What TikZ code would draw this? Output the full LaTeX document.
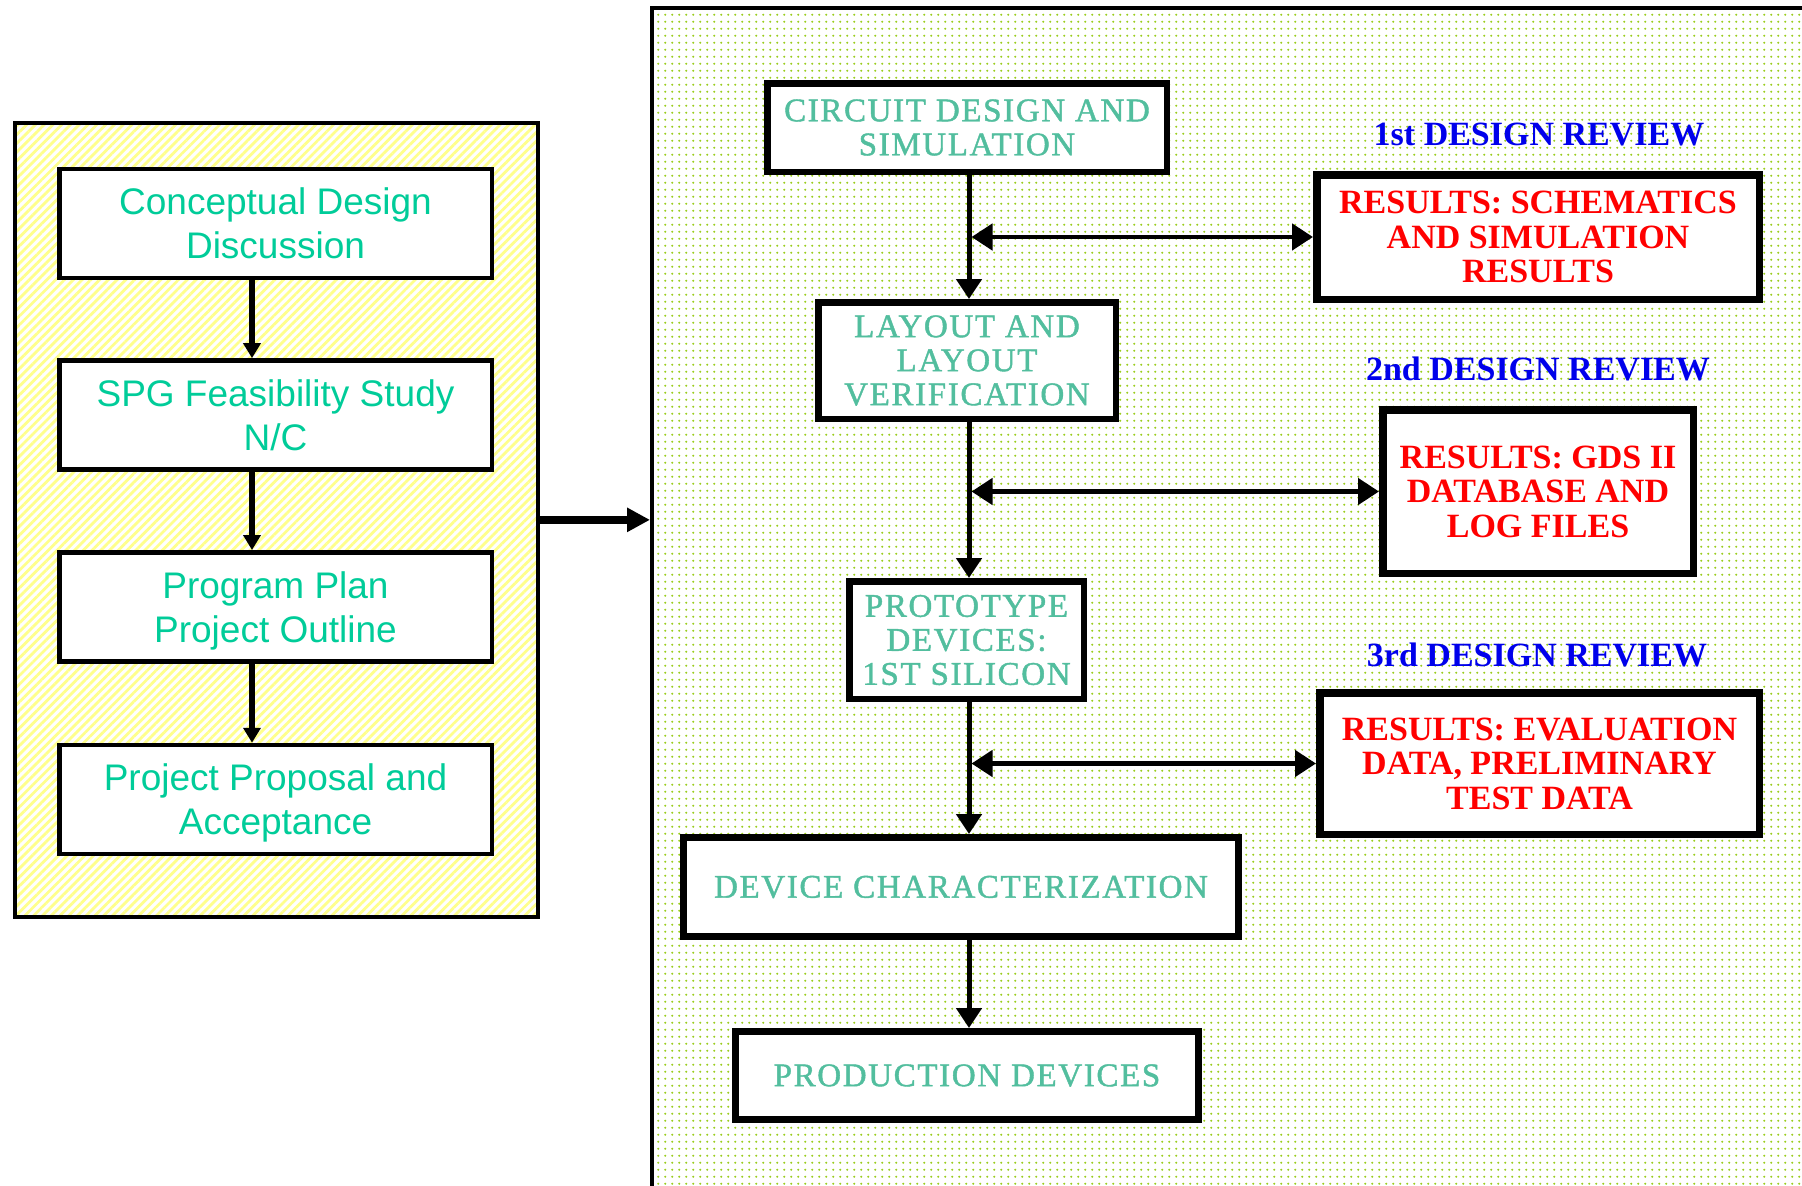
\documentclass[tikz,border=0pt]{standalone}
\usepackage{fontspec}
\setmainfont{Liberation Serif}
\newfontfamily\arialf{Liberation Sans}
\newfontfamily\timesg[LetterSpace=5,FakeBold=1.3]{Liberation Serif}
\usetikzlibrary{arrows.meta,patterns.meta}
\definecolor{lgreen}{RGB}{0,204,153}
\definecolor{tgreen}{RGB}{82,190,158}
\definecolor{rred}{RGB}{255,0,0}
\definecolor{bblue}{RGB}{0,0,235}
\definecolor{stripec}{RGB}{255,255,140}
\definecolor{dotc}{RGB}{155,205,30}
\tikzdeclarepattern{
  name=gdots,
  type=uncolored,
  bounding box={(0pt,0pt) and (7.2pt,7.2pt)},
  tile size={(7.2pt,7.2pt)},
  code={\pgfpathcircle{\pgfpoint{3.6pt}{3.6pt}}{1.3pt}\pgfusepath{fill}}
}
\begin{document}
\begin{tikzpicture}[x=1pt,y=-1pt,
  framebox/.style={draw=black,line width=4pt,pattern=gdots,pattern color=dotc,
    minimum width=1198pt,minimum height=1232pt,inner sep=0pt},
  lftbox/.style={draw=black,line width=4pt,pattern={Lines[angle=45,distance=6.2pt,line width=2.8pt]},
    pattern color=stripec,minimum width=523.3pt,minimum height=794.3pt,inner sep=0pt},
  lb/.style={draw=black,line width=4.5pt,fill=white,minimum width=432.5pt,minimum height=109pt,
    inner sep=0pt,align=center,text=lgreen,font=\arialf\fontsize{37}{44}\selectfont},
  gb/.style={draw=black,line width=6.5pt,fill=white,inner sep=0pt,align=center,text=tgreen,
    font=\timesg\fontsize{33}{34}\selectfont},
  rb/.style={draw=black,line width=7.5pt,fill=white,inner sep=0pt,align=center,text=rred,
    font=\bfseries\fontsize{34}{34.5}\selectfont},
  bt/.style={anchor=base,inner sep=0pt,text=bblue,font=\bfseries\fontsize{34}{34}\selectfont},
  arrl/.style={draw=black,line width=5.5pt,-{Triangle[width=17pt,length=15pt]}},
  arrv/.style={draw=black,line width=5pt,-{Triangle[width=25pt,length=20pt]}},
  arrh/.style={draw=black,line width=4.7pt,{Triangle[width=26pt,length=21pt]}-{Triangle[width=26pt,length=21pt]}},
  arrbig/.style={draw=black,line width=8pt,-{Triangle[width=23pt,length=23pt]}}
]
\clip (0,0) rectangle (1802,1186);
\fill[white] (0,0) rectangle (1802,1186);

% containers
\node[framebox] (frame) at (1251,624) {};
\node[lftbox] (lbox) at (276.35,519.85) {};

% left column
\node[lb] (c1) at (275.5,223.4) {Conceptual Design\\\smash{Discussion}};
\node[lb] (c2) at (275.5,414.9) {SPG Feasibility Study\\\smash{N/C}};
\node[lb] (c3) at (275.5,606.8) {Program Plan\\\smash{Project Outline}};
\node[lb] (c4) at (275.5,799.5) {Project Proposal and\\\smash{Acceptance}};

\coordinate (lx) at (252,0);
\draw[arrl] (c1.south -| lx) -- (c2.north -| lx);
\draw[arrl] (c2.south -| lx) -- (c3.north -| lx);
\draw[arrl] (c3.south -| lx) -- (c4.north -| lx);

\draw[arrbig] (lbox.east) -- (lbox.east -| frame.west);

% right column
\node[gb,minimum width=399.5pt,minimum height=88.5pt] (circ) at (967,127.5) {CIRCUIT DESIGN AND\\SIMULATION};
\node[gb,minimum width=297.5pt,minimum height=116.5pt] (lay) at (967,360.5) {LAYOUT AND\\LAYOUT\\VERIFICATION};
\node[gb,minimum width=234.5pt,minimum height=117.5pt] (proto) at (966.5,640) {PROTOTYPE\\DEVICES:\\1ST SILICON};
\node[gb,line width=7pt,minimum width=555pt,minimum height=99pt] (devc) at (961,887) {DEVICE CHARACTERIZATION};
\node[gb,line width=7pt,minimum width=463pt,minimum height=88pt] (prod) at (967,1075.5) {PRODUCTION DEVICES};

\node[rb,minimum width=442.5pt,minimum height=124.5pt] (res1) at (1538,237) {RESULTS: SCHEMATICS\\AND SIMULATION\\RESULTS};
\node[rb,minimum width=310.5pt,minimum height=163.5pt] (res2) at (1538,491.5) {RESULTS: GDS II\\DATABASE AND\\LOG FILES};
\node[rb,minimum width=439.5pt,minimum height=141.5pt] (res3) at (1539.5,763.5) {RESULTS: EVALUATION\\DATA, PRELIMINARY\\TEST DATA};

\node[bt] (t1) at (1539,145.7) {1st DESIGN REVIEW};
\node[bt] (t2) at (1538,380) {2nd DESIGN REVIEW};
\node[bt] (t3) at (1537,666) {3rd DESIGN REVIEW};

\coordinate (vx) at (969,0);
\coordinate (vr) at (971.5,0);
\draw[arrv] (circ.south -| vx) -- (lay.north -| vx);
\draw[arrv] (lay.south -| vx) -- (proto.north -| vx);
\draw[arrv] (proto.south -| vx) -- (devc.north -| vx);
\draw[arrv] (devc.south -| vx) -- (prod.north -| vx);

\draw[arrh] (vr |- res1.west) -- (res1.west);
\draw[arrh] (vr |- res2.west) -- (res2.west);
\draw[arrh] (vr |- res3.west) -- (res3.west);
\end{tikzpicture}
\end{document}
